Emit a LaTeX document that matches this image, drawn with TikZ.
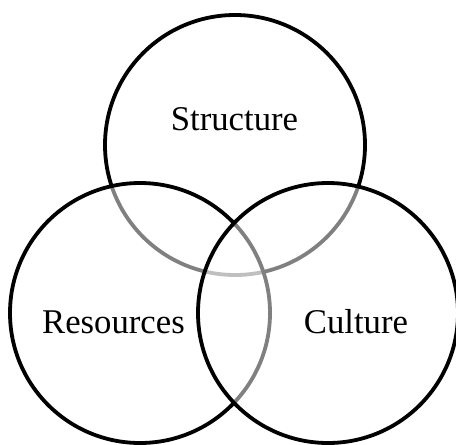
\documentclass[tikz,border=0pt]{standalone}
\usepackage{fontspec}
\setmainfont{Liberation Serif}
\usetikzlibrary{positioning}
\tikzset{ring/.style={draw, circle, line width=3.8pt, fill=white, fill opacity=0.5, minimum size=260pt, inner sep=0pt}}
\tikzset{word/.style={anchor=base, inner sep=0pt, font=\fontsize{34.7}{40}\selectfont}}

\begin{document}
\begin{tikzpicture}[x=1pt,y=-1pt]
        \useasboundingbox (0,0) rectangle (456,445);
        \node[ring] (structure) at (235,145) {};
        \node[ring] (resources) at (140,313) {};
        \node[ring] (culture) at (328,313) {};
        \node[word] (structuretxt) at (234.5,130) {Structure};
        \node[word] (resourcestxt) at (113.5,333) {Resources};
        \node[word] (culturetxt) at (356,333) {Culture};
\end{tikzpicture}
\end{document}
